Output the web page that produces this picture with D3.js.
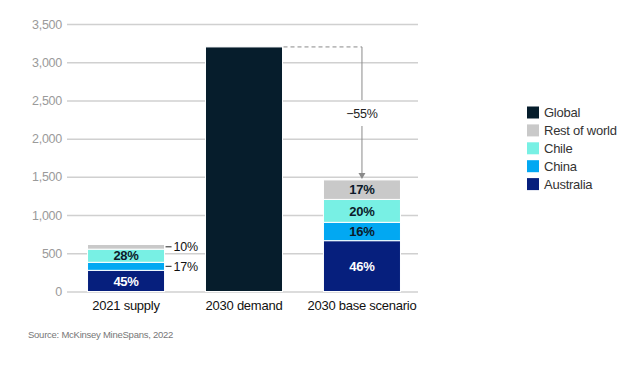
<!DOCTYPE html>
<html lang="en">
<head>
<meta charset="utf-8">
<title>Supply vs demand</title>
<script src="https://d3js.org/d3.v7.min.js"></script>
<style>
  body { margin: 0; background: #fff; font-family: "Liberation Sans", Arial, sans-serif; }
  svg text { letter-spacing: -0.25px; }
  .grid line { stroke: #d0d0d0; stroke-width: 1.5; }
  .tick text { fill: #9a9a9a; font-size: 12.5px; }
</style>
</head>
<body>
<svg id="chart" width="639" height="370"></svg>
<script>
var categories = ['2021 supply', '2030 demand', '2030 base scenario'];
var series = ['Australia', 'China', 'Chile', 'Rest of world', 'Global'];
var australia = [277, 0, 665];
var china = [105, 0, 240];
var chile = [172, 0, 300];
var restOfWorld = [61, 0, 255];
var global = [0, 3200, 0];
var shareLabels = [['45%', '17%', '28%', '10%'], [], ['46%', '16%', '20%', '17%']];
var yTicks = [0, 500, 1000, 1500, 2000, 2500, 3000, 3500];
var legendOrder = ['Global', 'Rest of world', 'Chile', 'China', 'Australia'];
var changeLabel = '\u221255%';

var colors = {
  'Global': '#061d2c',
  'Rest of world': '#c9c9c9',
  'Chile': '#78f0e4',
  'China': '#02a8f2',
  'Australia': '#061f7d'
};

var rows = categories.map(function(c, i) {
  return { cat: c, 'Australia': australia[i], 'China': china[i], 'Chile': chile[i],
           'Rest of world': restOfWorld[i], 'Global': global[i] };
});

var svg = d3.select('#chart');
var x = d3.scaleBand().domain(categories).range([67, 421]).paddingInner(0.347).paddingOuter(0.174);
var y = d3.scaleLinear().domain([0, 3500]).range([291.5, 24]);

// gridlines + y labels
svg.append('g')
  .attr('class', 'grid tick')
  .attr('transform', 'translate(67,0)')
  .call(d3.axisLeft(y).tickValues(yTicks).tickSize(-351).tickPadding(5).tickFormat(d3.format(',')))
  .call(function(g) { g.select('.domain').remove(); });

var stack = d3.stack().keys(series)(rows);

svg.append('g').selectAll('g')
  .data(stack)
  .join('g')
  .attr('fill', function(d) { return colors[d.key]; })
  .selectAll('rect')
  .data(function(d) { return d; })
  .join('rect')
  .filter(function(d) { return d[1] - d[0] > 0; })
  .attr('x', function(d) { return x(d.data.cat); })
  .attr('width', x.bandwidth())
  .attr('y', function(d) { return y(d[1]); })
  .attr('height', function(d) { return y(d[0]) - y(d[1]); })
  .attr('stroke', '#fff')
  .attr('stroke-width', 1);

// percent labels
var segKeys = ['Australia', 'China', 'Chile', 'Rest of world'];
categories.forEach(function(c, ci) {
  var labels = shareLabels[ci];
  if (!labels.length) return;
  segKeys.forEach(function(k, ki) {
    var layer = stack[ki][ci];
    var mid = (y(layer[0]) + y(layer[1])) / 2;
    var h = y(layer[0]) - y(layer[1]);
    if (h > 11) {
      svg.append('text')
        .attr('x', x(c) + x.bandwidth() / 2)
        .attr('y', mid)
        .attr('dy', '0.36em')
        .attr('text-anchor', 'middle')
        .attr('font-size', 13)
        .attr('font-weight', 'bold')
        .attr('fill', k === 'Australia' ? '#fff' : '#0b1a2a')
        .text(labels[ki]);
    } else {
      var xr = x(c) + x.bandwidth();
      svg.append('line')
        .attr('x1', xr + 1).attr('x2', xr + 7)
        .attr('y1', mid).attr('y2', mid)
        .attr('stroke', '#222').attr('stroke-width', 1);
      svg.append('text')
        .attr('x', xr + 9)
        .attr('y', mid)
        .attr('dy', '0.36em')
        .attr('font-size', 12.5)
        .attr('fill', '#111')
        .text(labels[ki]);
    }
  });
});

// x labels
svg.append('g').selectAll('text')
  .data(categories)
  .join('text')
  .attr('x', function(d) { return x(d) + x.bandwidth() / 2; })
  .attr('y', 305)
  .attr('dy', '0.35em')
  .attr('text-anchor', 'middle')
  .attr('font-size', 13)
  .attr('fill', '#111')
  .text(function(d) { return d; });

// change annotation
var topDemand = y(global[1]);
var baseTotal = australia[2] + china[2] + chile[2] + restOfWorld[2];
var xBase = x(categories[2]) + x.bandwidth() / 2;
svg.append('line')
  .attr('x1', x(categories[1]) + x.bandwidth() + 1).attr('x2', xBase)
  .attr('y1', topDemand).attr('y2', topDemand)
  .attr('stroke', '#8a8a8a').attr('stroke-width', 1).attr('stroke-dasharray', '4,3');
svg.append('line')
  .attr('x1', xBase).attr('x2', xBase)
  .attr('y1', topDemand).attr('y2', 100)
  .attr('stroke', '#8a8a8a').attr('stroke-width', 1);
svg.append('text')
  .attr('x', xBase).attr('y', 113)
  .attr('dy', '0.36em')
  .attr('text-anchor', 'middle')
  .attr('font-size', 12.5)
  .attr('fill', '#222')
  .text(changeLabel);
svg.append('line')
  .attr('x1', xBase).attr('x2', xBase)
  .attr('y1', 126).attr('y2', y(baseTotal) - 6)
  .attr('stroke', '#8a8a8a').attr('stroke-width', 1);
svg.append('path')
  .attr('d', 'M' + (xBase - 3.5) + ',' + (y(baseTotal) - 7) + 'L' + (xBase + 3.5) + ',' + (y(baseTotal) - 7) + 'L' + xBase + ',' + (y(baseTotal) - 1) + 'Z')
  .attr('fill', '#8a8a8a');

// legend
var legend = svg.append('g').selectAll('g')
  .data(legendOrder)
  .join('g')
  .attr('transform', function(d, i) { return 'translate(527,' + (106.5 + i * 17.9) + ')'; });
legend.append('rect')
  .attr('width', 12).attr('height', 12)
  .attr('fill', function(d) { return colors[d]; });
legend.append('text')
  .attr('x', 17).attr('y', 6)
  .attr('dy', '0.36em')
  .attr('font-size', 13)
  .attr('fill', '#333')
  .text(function(d) { return d; });

// source
svg.append('text')
  .attr('x', 28).attr('y', 335)
  .attr('dy', '0.35em')
  .attr('font-size', 9.5)
  .attr('fill', '#777')
  .text('Source: McKinsey MineSpans, 2022');
</script>
</body>
</html>
